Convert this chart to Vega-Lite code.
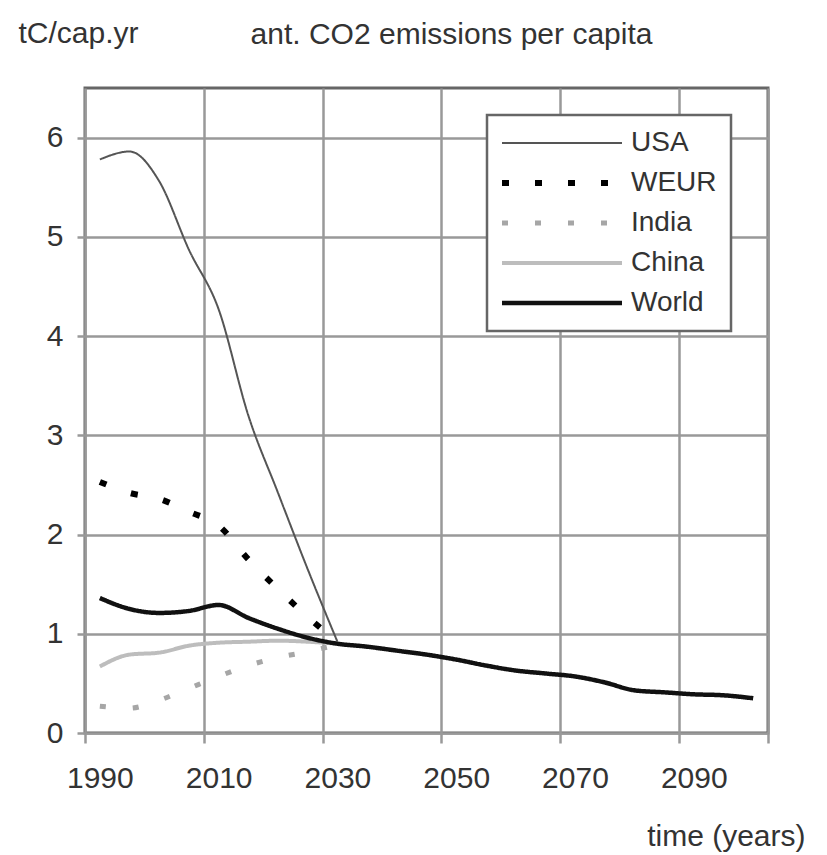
{
  "$schema": "https://vega.github.io/schema/vega-lite/v6.json",
  "width": 683,
  "height": 645,
  "autosize": {"type": "none"},
  "padding": {"left": 85, "top": 88, "right": 59, "bottom": 122},
  "background": "white",
  "config": {
    "font": "Liberation Sans, Arial, sans-serif",
    "view": {"stroke": "#666", "strokeWidth": 3},
    "axis": {
      "domain": false,
      "gridColor": "#999",
      "gridWidth": 2.5,
      "gridOpacity": 1,
      "tickColor": "#999",
      "tickWidth": 2.5,
      "labelColor": "#333",
      "labelFontSize": 30,
      "titleColor": "#333",
      "titleFontSize": 30,
      "titleFontWeight": "normal"
    },
    "legend": {"strokeWidth": 2.5}
  },
  "title": {
    "text": "ant. CO2 emissions per capita",
    "fontSize": 30,
    "fontWeight": "normal",
    "color": "#333",
    "anchor": "middle",
    "frame": "group",
    "baseline": "alphabetic",
    "dx": 25,
    "offset": -56
  },
  "data": {
    "values": [
      {"region": "USA", "year": 1990, "value": 5.78},
      {"region": "USA", "year": 1995, "value": 5.86},
      {"region": "USA", "year": 2000, "value": 5.56},
      {"region": "USA", "year": 2005, "value": 4.87},
      {"region": "USA", "year": 2010, "value": 4.27},
      {"region": "USA", "year": 2015, "value": 3.2},
      {"region": "USA", "year": 2020, "value": 2.42},
      {"region": "USA", "year": 2025, "value": 1.65},
      {"region": "USA", "year": 2030, "value": 0.92},
      {"region": "WEUR", "year": 1990, "value": 2.53},
      {"region": "WEUR", "year": 1995, "value": 2.42},
      {"region": "WEUR", "year": 2000, "value": 2.36},
      {"region": "WEUR", "year": 2005, "value": 2.23},
      {"region": "WEUR", "year": 2010, "value": 2.09},
      {"region": "WEUR", "year": 2015, "value": 1.75},
      {"region": "WEUR", "year": 2020, "value": 1.45},
      {"region": "WEUR", "year": 2025, "value": 1.17},
      {"region": "WEUR", "year": 2030, "value": 0.92},
      {"region": "India", "year": 1990, "value": 0.27},
      {"region": "India", "year": 1995, "value": 0.25},
      {"region": "India", "year": 2000, "value": 0.33},
      {"region": "India", "year": 2005, "value": 0.45},
      {"region": "India", "year": 2010, "value": 0.57},
      {"region": "India", "year": 2015, "value": 0.68},
      {"region": "India", "year": 2020, "value": 0.76},
      {"region": "India", "year": 2025, "value": 0.82},
      {"region": "India", "year": 2030, "value": 0.89},
      {"region": "China", "year": 1990, "value": 0.67},
      {"region": "China", "year": 1995, "value": 0.79},
      {"region": "China", "year": 2000, "value": 0.81},
      {"region": "China", "year": 2005, "value": 0.88},
      {"region": "China", "year": 2010, "value": 0.91},
      {"region": "China", "year": 2015, "value": 0.92},
      {"region": "China", "year": 2020, "value": 0.93},
      {"region": "China", "year": 2025, "value": 0.92},
      {"region": "China", "year": 2030, "value": 0.9},
      {"region": "World", "year": 1990, "value": 1.36},
      {"region": "World", "year": 1995, "value": 1.25},
      {"region": "World", "year": 2000, "value": 1.21},
      {"region": "World", "year": 2005, "value": 1.23},
      {"region": "World", "year": 2010, "value": 1.29},
      {"region": "World", "year": 2015, "value": 1.16},
      {"region": "World", "year": 2020, "value": 1.05},
      {"region": "World", "year": 2025, "value": 0.96},
      {"region": "World", "year": 2030, "value": 0.9},
      {"region": "World", "year": 2035, "value": 0.87},
      {"region": "World", "year": 2040, "value": 0.83},
      {"region": "World", "year": 2045, "value": 0.79},
      {"region": "World", "year": 2050, "value": 0.74},
      {"region": "World", "year": 2055, "value": 0.68},
      {"region": "World", "year": 2060, "value": 0.63},
      {"region": "World", "year": 2065, "value": 0.6},
      {"region": "World", "year": 2070, "value": 0.57},
      {"region": "World", "year": 2075, "value": 0.51},
      {"region": "World", "year": 2080, "value": 0.43},
      {"region": "World", "year": 2085, "value": 0.41},
      {"region": "World", "year": 2090, "value": 0.39},
      {"region": "World", "year": 2095, "value": 0.38},
      {"region": "World", "year": 2100, "value": 0.35}
    ]
  },
  "mark": {"type": "line", "interpolate": "monotone", "strokeCap": "butt"},
  "encoding": {
    "x": {
      "field": "year",
      "type": "quantitative",
      "scale": {"domain": [1987.5, 2102.5], "nice": false, "zero": false},
      "axis": {
        "values": [1987.5, 2007.5, 2027.5, 2047.5, 2067.5, 2087.5, 2102.5],
        "labelExpr": "datum.value > 2100 ? '' : '' + (datum.value + 2.5)",
        "labelOffset": 14.85,
        "labelFlush": false,
        "labelOverlap": false,
        "labelPadding": 20,
        "tickSize": 10,
        "title": "time (years)",
        "titleAnchor": "end",
        "titleAlign": "right",
        "titleBaseline": "alphabetic",
        "titleX": 720,
        "titleY": 112
      }
    },
    "y": {
      "field": "value",
      "type": "quantitative",
      "scale": {"domain": [0, 6.5], "nice": false},
      "axis": {
        "values": [0, 1, 2, 3, 4, 5, 6],
        "tickSize": 8,
        "labelPadding": 14,
        "labelFlush": false,
        "title": "tC/cap.yr",
        "titleAngle": 0,
        "titleAlign": "left",
        "titleBaseline": "alphabetic",
        "titleX": -67,
        "titleY": -46
      }
    },
    "color": {
      "field": "region",
      "type": "nominal",
      "scale": {
        "domain": ["USA", "WEUR", "India", "China", "World"],
        "range": ["#555555", "#000000", "#a6a6a6", "#bdbdbd", "#111111"]
      },
      "legend": {
        "orient": "none",
        "legendX": 402,
        "legendY": 27,
        "title": null,
        "symbolType": "stroke",
        "symbolSize": 14400,
        "symbolOffset": 47,
        "labelFontSize": 28,
        "labelColor": "#333",
        "labelOffset": 55,
        "padding": 14,
        "rowPadding": 12,
        "strokeColor": "#666",
        "fillColor": "white",
        "encode": {
          "symbols": {
            "update": {
              "strokeWidth": {"signal": "datum.value === 'USA' ? 2 : datum.value === 'WEUR' ? 6 : datum.value === 'India' ? 5 : datum.value === 'China' ? 4 : 4.5"}
            }
          }
        }
      }
    },
    "strokeDash": {
      "field": "region",
      "type": "nominal",
      "scale": {
        "domain": ["USA", "WEUR", "India", "China", "World"],
        "range": [[1, 0], [7, 26], [6, 27], [1, 0], [1, 0]]
      }
    },
    "strokeWidth": {
      "condition": [
        {"test": "datum.region === 'USA'", "value": 2},
        {"test": "datum.region === 'WEUR'", "value": 6},
        {"test": "datum.region === 'India'", "value": 5},
        {"test": "datum.region === 'China'", "value": 4}
      ],
      "value": 4.5
    }
  }
}
